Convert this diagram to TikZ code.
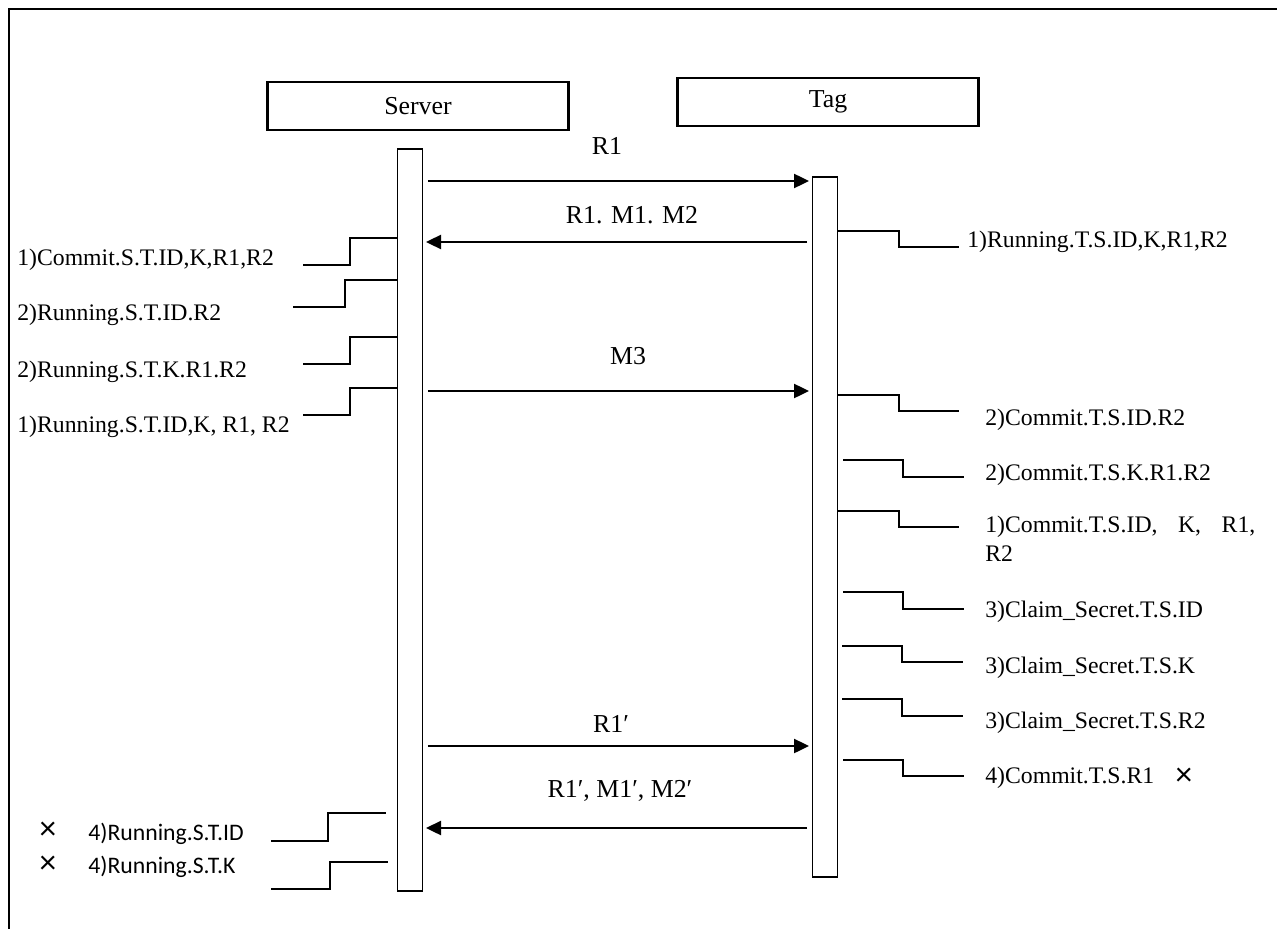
\documentclass[tikz,border=0pt]{standalone}
\usepackage{fontspec}
\setmainfont{Liberation Serif}
\newfontfamily\calibri{Carlito}
\usetikzlibrary{arrows.meta, positioning, calc}

\begin{document}
\begin{tikzpicture}[
  x=0.02cm, y=-0.02cm,
  actor/.style={rectangle, draw, line width=1.2pt, minimum width=6.02cm, minimum height=0.96cm, font=\fontsize{14.7}{17}\selectfont},
  bar/.style={rectangle, draw, line width=1pt, fill=white, minimum width=0.5cm},
  msg/.style={-{Triangle[length=0.3cm, width=0.28cm]}, line width=1.4pt, shorten <=2.5pt, shorten >=1.5pt},
  msglabel/.style={font=\fontsize{14.7}{17}\selectfont, anchor=base},
  stepline/.style={line width=0.9pt},
  event/.style={font=\fontsize{13.5}{16.4}\selectfont, anchor=base west, inner sep=0pt},
  sansevent/.style={font=\calibri\fontsize{13.5}{16.4}\selectfont, anchor=base west, inner sep=0pt},
  cross/.style={font=\calibri\fontsize{19}{19}\selectfont, inner sep=0pt},
]
  \useasboundingbox (0,0) rectangle (1277,929);

  % Frame
  \draw[line width=1.2pt] (9,929) -- (9,9) -- (1277,9);

  % Actors
  \node[actor, text height=2.2ex] (server) at (418,106) {Server};
  \node[actor] (tag) at (828,102) {Tag};

  % Activation bars
  \node[bar, minimum height=14.84cm] (sbar) at (410,520) {};
  \node[bar, minimum height=14cm] (tbar) at (825,527) {};

  % Messages
  \draw[msg] (sbar.east |- 0,181) -- (tbar.west |- 0,181);
  \node[msglabel] (m1) at (607,155) {R1};
  \draw[msg] (tbar.west |- 0,242) -- (sbar.east |- 0,242);
  \node[msglabel] (m2) at (632,223) {R1. M1. M2};
  \draw[msg] (sbar.east |- 0,391) -- (tbar.west |- 0,391);
  \node[msglabel] (m3) at (628,364) {M3};
  \draw[msg] (sbar.east |- 0,746) -- (tbar.west |- 0,746);
  \node[msglabel] (m4) at (611,732) {R1′};
  \draw[msg] (tbar.west |- 0,828) -- (sbar.east |- 0,828);
  \node[msglabel] (m5) at (620,797) {R1′, M1′, M2′};

  % Server events
  \node[event] (s1) at (17,265) {1)Commit.S.T.ID,K,R1,R2};
  \draw[stepline] (sbar.west |- 0,238) -| (350,265) -- (303,265);
  \node[event] (s2) at (17,320) {2)Running.S.T.ID.R2};
  \draw[stepline] (sbar.west |- 0,280) -| (345,307) -- (293,307);
  \node[event] (s3) at (17,377) {2)Running.S.T.K.R1.R2};
  \draw[stepline] (sbar.west |- 0,337) -| (350,364) -- (303,364);
  \node[event] (s4) at (17,432) {1)Running.S.T.ID,K, R1, R2};
  \draw[stepline] (sbar.west |- 0,388) -| (350,415) -- (303,415);

  \node[cross] (x1) at (48,831) {×};
  \node[sansevent] (s5) at (88,840) {4)Running.S.T.ID};
  \draw[stepline] ($(sbar.west |- 0,813)+(-11,0)$) -| (328,841) -- (271,841);
  \node[cross] (x2) at (48,865) {×};
  \node[sansevent] (s6) at (88,873) {4)Running.S.T.K};
  \draw[stepline] ($(sbar.west |- 0,862)+(-9,0)$) -| (330,889) -- (271,889);

  % Tag events
  \draw[stepline] (tbar.east |- 0,231) -| (899,247) -- (959,247);
  \node[event] (t1) at (967,247) {1)Running.T.S.ID,K,R1,R2};
  \draw[stepline] (tbar.east |- 0,395) -| (899,411) -- (959,411);
  \node[event] (t2) at (985,425) {2)Commit.T.S.ID.R2};
  \draw[stepline] ($(tbar.east |- 0,460)+(5,0)$) -| (903,477) -- (964,477);
  \node[event] (t3) at (985,480) {2)Commit.T.S.K.R1.R2};
  \draw[stepline] (tbar.east |- 0,511) -| (899,527) -- (959,527);
  \node[event, anchor=north west, text width=5.4cm, align=left] (t4) at (985,516) {1)Commit.T.S.ID,\hfill K,\hfill R1,\\R2};
  \draw[stepline] ($(tbar.east |- 0,592)+(5,0)$) -| (903,609) -- (964,609);
  \node[event] (t5) at (985,617) {3)Claim\_Secret.T.S.ID};
  \draw[stepline] ($(tbar.east |- 0,646)+(4,0)$) -| (902,662) -- (963,662);
  \node[event] (t6) at (985,673) {3)Claim\_Secret.T.S.K};
  \draw[stepline] ($(tbar.east |- 0,699)+(4,0)$) -| (902,716) -- (963,716);
  \node[event] (t7) at (985,728) {3)Claim\_Secret.T.S.R2};
  \draw[stepline] ($(tbar.east |- 0,760)+(5,0)$) -| (903,776) -- (964,776);
  \node[event] (t8) at (985,783) {4)Commit.T.S.R1};
  \node[cross] (x3) at (1184,777) {×};

\end{tikzpicture}
\end{document}
